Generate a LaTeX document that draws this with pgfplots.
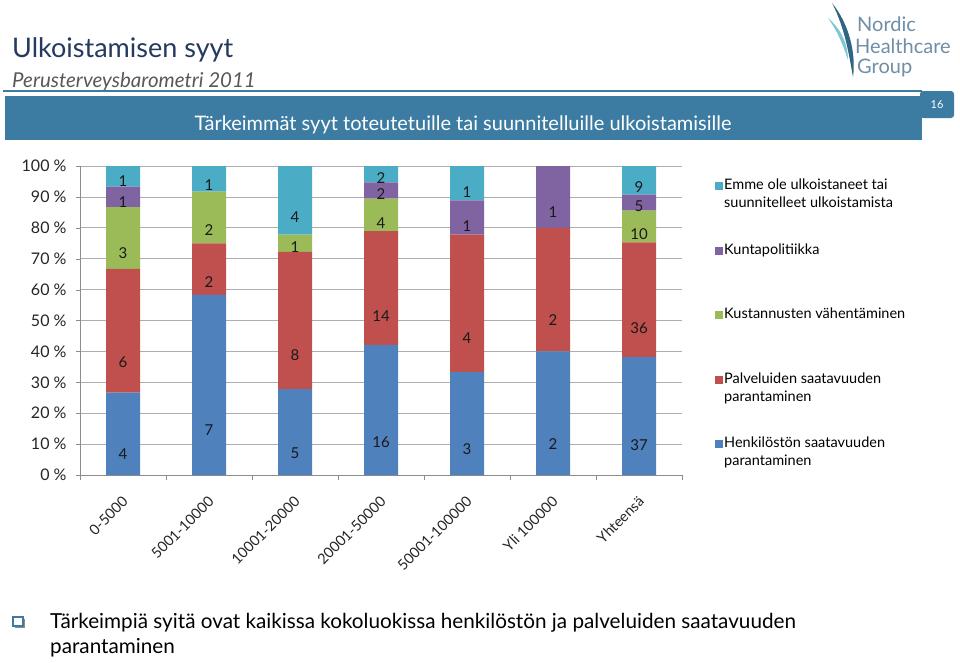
\documentclass[border=0pt]{standalone}
\usepackage{fontspec}
\setmainfont{Lato}
\usepackage{pgfplots}
\pgfplotsset{compat=1.18}

\definecolor{henk}{HTML}{4F81BD}
\definecolor{palv}{HTML}{C0504D}
\definecolor{kust}{HTML}{9BBB59}
\definecolor{kunta}{HTML}{8064A2}
\definecolor{emme}{HTML}{4BACC6}
\definecolor{band}{HTML}{3D7CA2}
\definecolor{navy}{HTML}{243A5E}
\definecolor{logo}{HTML}{6F8EA8}

\pgfplotsset{
  seg/.style={fill=#1, draw=none,
    legend image code/.code={\fill[fill=#1] (0pt,-0.5pt) rectangle (8pt,7.5pt);}},
}
\newcommand{\legtext}[1]{\parbox[t][62.5pt][t]{190pt}{\fontsize{14.5}{18}\selectfont #1}}

\begin{document}
\begin{tikzpicture}[x=1pt,y=1pt]
\useasboundingbox[fill=white] (0,0) rectangle (960,-662);

% header
\node[anchor=base west, inner sep=0, text=navy, font=\fontsize{27}{32}\selectfont] at (12,-57) {Ulkoistamisen syyt};
\node[anchor=base west, inner sep=0, text=black!65, font=\fontsize{20.5}{24}\selectfont\itshape] at (12,-87) {Perusterveysbarometri 2011};
\draw[band, line width=1.5pt] (3,-91) -- (922,-91);
\fill[band] (5,-96) rectangle (922,-140);
\fill[band, rounded corners=3pt] (920,-91) rectangle (954,-118);
\node[text=white, font=\fontsize{11}{12}\selectfont] at (937,-105) {16};
\node[anchor=base, inner sep=0, text=white, font=\fontsize{20}{24}\selectfont] at (463,-130)
  {Tärkeimmät syyt toteutetuille tai suunnitelluille ulkoistamisille};

% logo
\fill[band!80!black] (832,-3) .. controls (850,-25) and (856,-55) .. (853,-77)
  .. controls (849,-55) and (845,-28) .. (832,-3);
\fill[emme!70] (828,-18) .. controls (842,-30) and (848,-45) .. (848,-60)
  .. controls (843,-45) and (838,-32) .. (828,-18);
\begin{scope}[every node/.style={anchor=base west, inner sep=0, text=logo, font=\fontsize{20}{24}\selectfont}]
\node at (857,-31) {Nordic};
\node at (855,-53) {Healthcare};
\node at (857,-73) {Group};
\end{scope}

% bottom bullet
\fill[black!45] (15,-619) rectangle (25,-628);
\fill[white] (13,-617) rectangle (23,-626);
\draw[band, line width=1.2pt] (13,-617) rectangle (23,-626);
\node[anchor=base west, inner sep=0, font=\fontsize{20.7}{25}\selectfont] at (50,-628)
  {Tärkeimpiä syitä ovat kaikissa kokoluokissa henkilöstön ja palveluiden saatavuuden};
\node[anchor=base west, inner sep=0, font=\fontsize{20.7}{25}\selectfont] at (50,-653) {parantaminen};

\begin{axis}[
  at={(80pt,-475pt)}, anchor=south west,
  scale only axis, width=602pt, height=309pt,
  xmin=-0.5, xmax=6.5, ymin=0, ymax=100,
  ybar stacked, bar width=34pt,
  axis x line*=bottom, axis y line*=left,
  axis line style={-, draw=black!45},
  ytick={0,10,...,100},
  yticklabel={\pgfmathprintnumber[assume math mode=true]{\tick}\ \%},
  yticklabel style={font=\fontsize{16}{18}\selectfont, text=black!85, xshift=-6pt},
  ymajorgrids, grid style={black!32, line width=0.8pt},
  tick align=outside, major tick length=4pt,
  tick style={black!45},
  xtick={0,...,6},
  xticklabels={0-5000,5001-10000,10001-20000,20001-50000,50001-100000,Yli 100000,Yhteensä},
  major x tick style={draw=none},
  minor xtick={-0.5,0.5,...,6.5}, minor tick length=5pt,
  xticklabel style={font=\fontsize{14.5}{16}\selectfont, text=black!85, inner sep=1pt,
    anchor=east, xshift=3pt, yshift=-19pt, rotate=45},
  point meta=explicit symbolic,
  visualization depends on=rawy\as\rawy,
  nodes near coords={\ifdim\rawy pt>0.01pt\pgfplotspointmeta\fi},
  every node near coord/.append style={anchor=center, shift={(axis direction cs:0,-\rawy/4)},
    font=\fontsize{15}{17}\selectfont, text=black!90},
  reverse legend,
  legend style={at={(1.0548,0.961)}, anchor=north west, draw=none, fill=none,
    inner sep=0pt, row sep=0pt, cells={anchor=base west},
    nodes={inner sep=1pt, text depth=}},
]
\addplot[seg=henk] coordinates {(0,26.67)[4] (1,58.33)[7] (2,27.78)[5] (3,42.11)[16] (4,33.33)[3] (5,40)[2] (6,38.14)[37]};
\addlegendentry{\legtext{Henkilöstön saatavuuden\\parantaminen}}
\addplot[seg=palv] coordinates {(0,40)[6] (1,16.67)[2] (2,44.44)[8] (3,36.84)[14] (4,44.44)[4] (5,40)[2] (6,37.11)[36]};
\addlegendentry{\legtext{Palveluiden saatavuuden\\parantaminen}}
\addplot[seg=kust] coordinates {(0,20)[3] (1,16.67)[2] (2,5.56)[1] (3,10.53)[4] (4,0)[0] (5,0)[0] (6,10.31)[10]};
\addlegendentry{\legtext{Kustannusten vähentäminen}}
\addplot[seg=kunta] coordinates {(0,6.67)[1] (1,0)[0] (2,0)[0] (3,5.26)[2] (4,11.11)[1] (5,20)[1] (6,5.15)[5]};
\addlegendentry{\legtext{Kuntapolitiikka}}
\addplot[seg=emme] coordinates {(0,6.66)[1] (1,8.33)[1] (2,22.22)[4] (3,5.26)[2] (4,11.11)[1] (5,0)[0] (6,9.28)[9]};
\addlegendentry{\legtext{Emme ole ulkoistaneet tai\\suunnitelleet ulkoistamista}}
\end{axis}
\end{tikzpicture}
\end{document}
